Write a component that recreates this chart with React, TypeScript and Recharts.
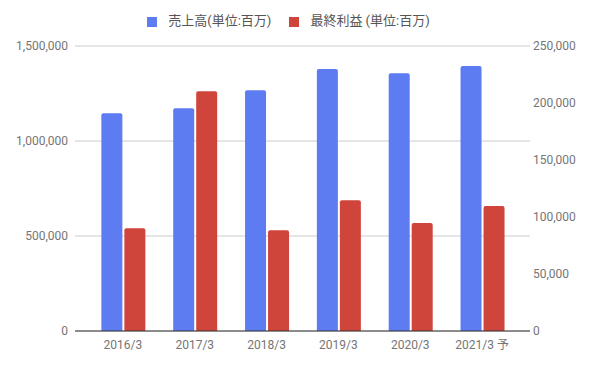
import {
  BarChart,
  Bar,
  XAxis,
  YAxis,
  CartesianGrid,
  Legend,
} from 'recharts';

const years = ['2016/3', '2017/3', '2018/3', '2019/3', '2020/3', '2021/3 予'];
const sales = [1146000, 1172000, 1267000, 1379000, 1356000, 1395000];
const profit = [90100, 210300, 88300, 114600, 94700, 109700];
const leftTicks = [0, 500000, 1000000, 1500000];
const rightTicks = [0, 50000, 100000, 150000, 200000, 250000];

const data = years.map((year, i) => ({ year, sales: sales[i], profit: profit[i] }));

const font = "Roboto, 'Noto Sans CJK JP', sans-serif";
const tickStyle = { fontSize: 12, fill: '#757575', fontFamily: font };
const fmt = (v: number) => v.toLocaleString('en-US');

export default function App() {
  return (
    <div style={{ margin: -8, background: '#fff', width: 595, height: 368 }}>
      <BarChart
        width={595}
        height={368}
        data={data}
        margin={{ top: 27, right: 0, left: 0, bottom: 2 }}
        barCategoryGap="20%"
        barGap={2}
      >
        <CartesianGrid vertical={false} stroke="#cccccc" yAxisId="left" />
        <XAxis
          dataKey="year"
          padding={{ left: 12, right: 12 }}
          tickLine={false}
          axisLine={{ stroke: '#333' }}
          tick={tickStyle}
          tickMargin={3}
          height={35}
        />
        <YAxis
          yAxisId="left"
          domain={[0, 1500000]}
          ticks={leftTicks}
          tickFormatter={fmt}
          axisLine={false}
          tickLine={false}
          tickSize={0}
          tickMargin={7}
          width={75}
          tick={tickStyle}
        />
        <YAxis
          yAxisId="right"
          orientation="right"
          domain={[0, 250000]}
          ticks={rightTicks}
          tickFormatter={fmt}
          axisLine={false}
          tickLine={false}
          tickSize={0}
          tickMargin={3}
          width={65}
          tick={{ ...tickStyle, textAnchor: 'start' }}
        />
        <Legend
          verticalAlign="top"
          align="center"
          iconType="square"
          iconSize={10}
          wrapperStyle={{ top: 10, fontFamily: font, fontSize: 13, color: '#555' }}
          formatter={(value) => (
            <span style={{ color: '#555', paddingLeft: 7, marginRight: 8 }}>{value}</span>
          )}
        />
        <Bar
          yAxisId="left"
          dataKey="sales"
          name="売上高(単位:百万)"
          fill="#5d7cf2"
          radius={[2, 2, 0, 0]}
          isAnimationActive={false}
        />
        <Bar
          yAxisId="right"
          dataKey="profit"
          name="最終利益 (単位:百万)"
          fill="#cf453b"
          radius={[2, 2, 0, 0]}
          isAnimationActive={false}
        />
      </BarChart>
    </div>
  );
}
